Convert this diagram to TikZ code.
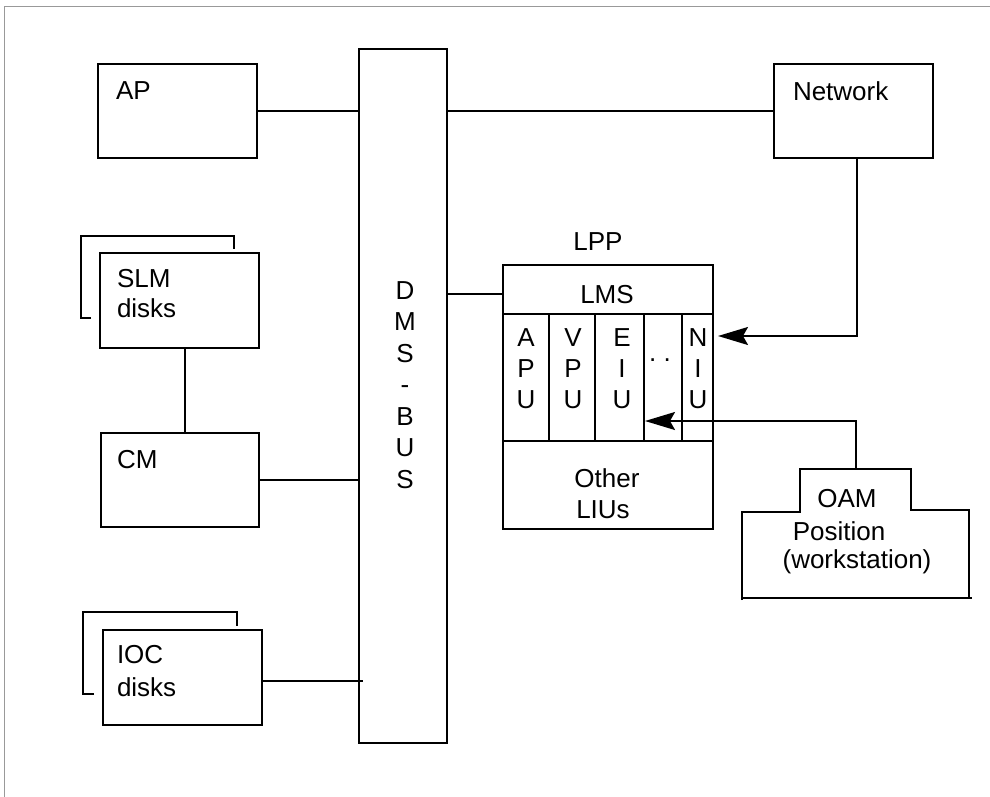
\documentclass[tikz,border=0pt]{standalone}
\usepackage{fontspec}
\setmainfont{Liberation Sans}
\usetikzlibrary{arrows.meta}
\begin{document}
\begin{tikzpicture}[x=1pt,y=-1pt,line width=1.8pt,
  box/.style={draw,line width=1.8pt,inner sep=0pt,outer sep=0pt,anchor=north west},
  txt/.style={font=\fontsize{26}{30}\selectfont,inner sep=0pt,outer sep=0pt},
  wire/.style={line width=1.8pt},
  arr/.style={line width=1.8pt,-{Stealth[length=30pt,width=18pt,inset=5pt]}}]
\useasboundingbox (0,0) rectangle (990,797);
\draw[gray!80,line width=1pt] (4,797) -- (4,7) -- (990,7);

% boxes
\node[box,minimum width=159pt,minimum height=94pt] (ap) at (98,64) {};
\node[box,minimum width=88pt,minimum height=694pt] (bus) at (359,49) {};
\node[box,minimum width=159pt,minimum height=94pt] (net) at (774,64) {};
\draw[wire] (91,318) -- (81,318) -- (81,236) -- (234,236) -- (234,249);
\node[box,minimum width=159pt,minimum height=95pt,fill=white] (slm) at (100,253) {};
\node[box,minimum width=158pt,minimum height=94pt] (cm) at (101,433) {};
\draw[wire] (94,694) -- (83,694) -- (83,612) -- (237,612) -- (237,626);
\node[box,minimum width=159pt,minimum height=95pt,fill=white] (ioc) at (103,630) {};

% LPP
\node[box,minimum width=210pt,minimum height=49pt] (lms) at (503,265) {};
\node[box,minimum width=46pt,minimum height=127pt] (apu) at (503,314) {};
\node[box,minimum width=46pt,minimum height=127pt] (vpu) at (549,314) {};
\node[box,minimum width=49pt,minimum height=127pt] (eiu) at (595,314) {};
\node[box,minimum width=38pt,minimum height=127pt] (dots) at (644,314) {};
\node[box,minimum width=31pt,minimum height=127pt] (niu) at (682,314) {};
\node[box,minimum width=210pt,minimum height=88pt] (oth) at (503,441) {};

% OAM position
\draw[wire] (742,600) -- (742,512) -- (800,512) -- (800,469) -- (911,469) -- (911,510) -- (969,510) -- (969,597);
\draw[wire] (742,598) -- (972,598);
\coordinate (oamtop) at (856,469);

% texts
\node[txt,anchor=base west] (tap) at (116,100) {AP};
\node[txt,anchor=base west] (tnet) at (793,101) {Network};
\node[txt,anchor=base west] (tslm1) at (117,287) {SLM};
\node[txt,anchor=base west] (tslm2) at (117,317) {disks};
\node[txt,anchor=base west] (tcm) at (117,468) {CM};
\node[txt,anchor=base west] (tioc1) at (117,663) {IOC};
\node[txt,anchor=base west] (tioc2) at (117,696) {disks};
\foreach \t [count=\i] in {D,M,S,-,B,U,S}
  \node[txt,anchor=base] (tbus\i) at (405,{299+31.5*(\i-1)}) {\t};
\node[txt,anchor=base] (tlpp) at (598,250) {LPP};
\node[txt,anchor=base] (tlms) at (607,303) {LMS};
\foreach \col/\x/\a/\b/\c in {apu/526/A/P/U, vpu/573/V/P/U, eiu/622/E/I/U, niu/698/N/I/U}{
  \node[txt,anchor=base] (t\col1) at (\x,346) {\a};
  \node[txt,anchor=base] (t\col2) at (\x,377) {\b};
  \node[txt,anchor=base] (t\col3) at (\x,408) {\c};
}
\node[txt,anchor=base] (tdots) at (660,361) {.\ .};
\node[txt,anchor=base] (toth1) at (607,487) {Other};
\node[txt,anchor=base] (toth2) at (603,518) {LIUs};
\node[txt,anchor=base] (toam1) at (847,507) {OAM};
\node[txt,anchor=base] (toam2) at (839,540) {Position};
\node[txt,anchor=base] (toam3) at (857,568) {(workstation)};

% connectors
\draw[wire] (ap.east) -- (ap.east -| bus.west);
\draw[wire] (bus.east |- net.west) -- (net.west);
\coordinate (slmx) at (185,0);
\draw[wire] (slm.south -| slmx) -- (cm.north -| slmx);
\draw[wire] (cm.east) -- (cm.east -| bus.west);
\coordinate (iocy) at (0,681);
\coordinate (iocend) at (363,681);
\draw[wire] (ioc.east |- iocy) -- (iocend);
\coordinate (lppy) at (0,294);
\draw[wire] (bus.east |- lppy) -- (lms.west |- lppy);
\coordinate (n1) at (857,336);
\coordinate (niuin) at (718,336);
\draw[arr] (net.south -| n1) -- (n1) -- (niuin);
\coordinate (o1) at (856,421);
\coordinate (eiuin) at (645,421);
\draw[arr] (oamtop) -- (o1) -- (eiuin);
\end{tikzpicture}
\end{document}
